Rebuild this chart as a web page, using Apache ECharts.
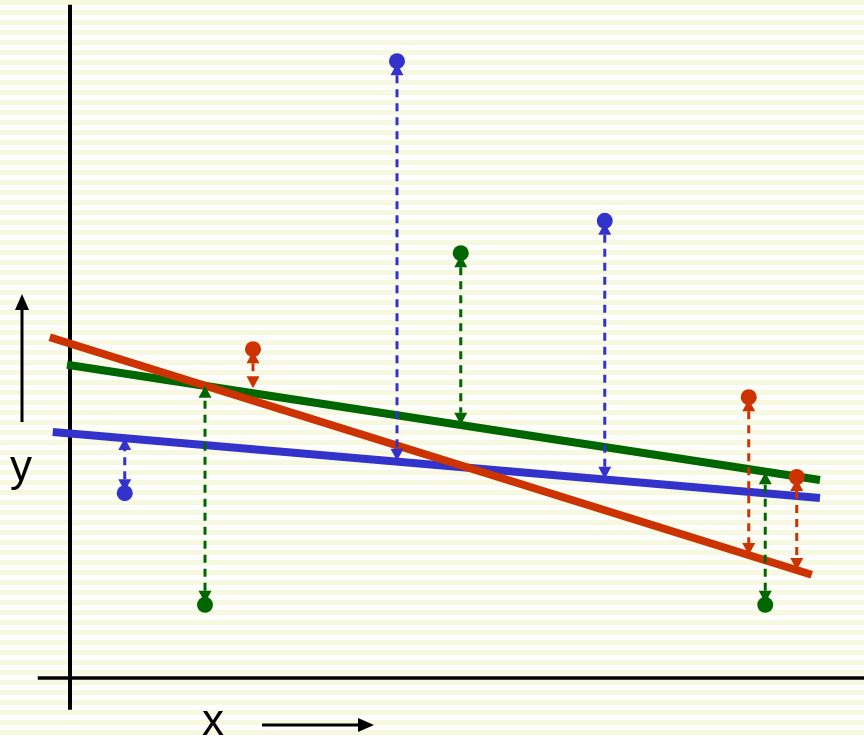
<!DOCTYPE html>
<html>
<head>
<meta charset="utf-8">
<script src="https://cdn.jsdelivr.net/npm/echarts@6/dist/echarts.min.js"></script>
<style>
html,body{margin:0;padding:0;}
#chart{width:864px;height:739px;
background: repeating-linear-gradient(to bottom,#f6f8e0 0px,#f6f8e0 5px,#ffffff 5px,#ffffff 10px);}
</style>
</head>
<body>
<div id="chart"></div>
<script>
// ---- data (x, y in data units; origin at axes crossing) ----
const blueX = [0.73, 4.36, 7.13];
const blueY = [3.08, 10.28, 7.62];
const blueFit = [4.00, 3.62, 3.32];

const greenX = [1.80, 5.21, 9.27];
const greenY = [1.22, 7.08, 1.22];
const greenFit = [4.87, 4.22, 3.43];

const redX = [2.44, 9.05, 9.69];
const redY = [5.48, 4.68, 3.35];
const redFit = [4.83, 2.05, 1.80];

// regression lines: [x0, y0, x1, y1]
const blueLine = [-0.23, 4.10, 10.00, 3.00];
const greenLine = [-0.04, 5.22, 10.00, 3.30];
const redLine = [-0.27, 5.68, 9.89, 1.72];

// axis extents
const xAxisLine = [-0.43, 10.59];
const yAxisLine = [-0.53, 11.22];

const BLUE = '#3333cc', GREEN = '#006600', RED = '#cc3300';

function pts(xs, ys) { return xs.map((x, i) => [x, ys[i]]); }
function resid(xs, ys, fit) { return xs.map((x, i) => [x, ys[i], fit[i]]); }
function seg(l) { return [[l[0], l[1]], [l[2], l[3]]]; }

function residualRender(color) {
  return function (params, api) {
    const x = api.value(0);
    const p = api.coord([x, api.value(1)]);
    const f = api.coord([x, api.value(2)]);
    const d = f[1] > p[1] ? 1 : -1;
    const headLen = 12, headW = 6.5, tipGap = 2;
    const pTip = p[1] + d * tipGap;
    const pBase = pTip + d * headLen;
    const fTip = f[1];
    const fBase = fTip - d * headLen;
    return {
      type: 'group',
      children: [
        { type: 'line', shape: { x1: p[0], y1: pBase, x2: p[0], y2: fBase },
          style: { stroke: color, lineWidth: 3, lineDash: [8, 6] } },
        { type: 'polygon', shape: { points: [[p[0], pTip], [p[0] - headW, pBase], [p[0] + headW, pBase]] },
          style: { fill: color } },
        { type: 'polygon', shape: { points: [[f[0], fTip], [f[0] - headW, fBase], [f[0] + headW, fBase]] },
          style: { fill: color } }
      ]
    };
  };
}

const chart = echarts.init(document.getElementById('chart'));
const option = {
  animation: false,
  grid: { left: 0, right: 0, top: 0, bottom: 0 },
  xAxis: { type: 'value', min: -70 / 75, max: 794 / 75, show: false },
  yAxis: { type: 'value', min: -61 / 60, max: 678 / 60, show: false },
  graphic: [
    { type: 'line', shape: { x1: 22, y1: 422, x2: 22, y2: 306 }, style: { stroke: '#000', lineWidth: 3 } },
    { type: 'polygon', shape: { points: [[22, 294], [15, 310], [29, 310]] }, style: { fill: '#000' } },
    { type: 'line', shape: { x1: 262, y1: 725, x2: 362, y2: 725 }, style: { stroke: '#000', lineWidth: 3 } },
    { type: 'polygon', shape: { points: [[374, 725], [358, 718], [358, 732]] }, style: { fill: '#000' } },
    { type: 'text', x: 21, y: 469, style: { text: 'y', font: '44px "Liberation Sans", Arial, sans-serif', fill: '#000', align: 'center', verticalAlign: 'middle' } },
    { type: 'text', x: 213, y: 723, style: { text: 'x', font: '44px "Liberation Sans", Arial, sans-serif', fill: '#000', align: 'center', verticalAlign: 'middle' } }
  ],
  series: [
    { type: 'line', data: [[0, yAxisLine[0]], [0, yAxisLine[1]]], symbol: 'none', lineStyle: { color: '#000', width: 4 }, z: 1 },
    { type: 'line', data: [[xAxisLine[0], 0], [xAxisLine[1], 0]], symbol: 'none', lineStyle: { color: '#000', width: 3.5 }, z: 1 },
    { type: 'line', data: seg(blueLine), symbol: 'none', lineStyle: { color: BLUE, width: 8, cap: 'butt' }, z: 2 },
    { type: 'line', data: seg(greenLine), symbol: 'none', lineStyle: { color: GREEN, width: 8, cap: 'butt' }, z: 2 },
    { type: 'line', data: seg(redLine), symbol: 'none', lineStyle: { color: RED, width: 8, cap: 'butt' }, z: 2 },
    { type: 'custom', data: resid(blueX, blueY, blueFit), renderItem: residualRender(BLUE), z: 3 },
    { type: 'custom', data: resid(greenX, greenY, greenFit), renderItem: residualRender(GREEN), z: 3 },
    { type: 'custom', data: resid(redX, redY, redFit), renderItem: residualRender(RED), z: 3 },
    { type: 'scatter', data: pts(blueX, blueY), symbolSize: 16, itemStyle: { color: BLUE, opacity: 1 }, z: 4 },
    { type: 'scatter', data: pts(greenX, greenY), symbolSize: 16, itemStyle: { color: GREEN, opacity: 1 }, z: 4 },
    { type: 'scatter', data: pts(redX, redY), symbolSize: 16, itemStyle: { color: RED, opacity: 1 }, z: 4 }
  ]
};
chart.setOption(option);
</script>
</body>
</html>
